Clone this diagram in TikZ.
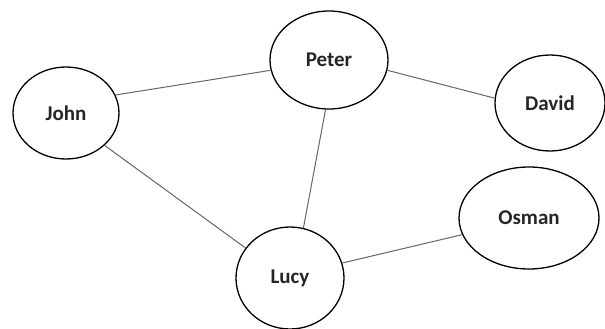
\documentclass[tikz,border=0pt]{standalone}
\usepackage{fontspec}
\setmainfont{Carlito}
\usetikzlibrary{shapes.geometric}
\begin{document}
\begin{tikzpicture}[x=1pt,y=-1pt,
  person/.style={ellipse, draw=black, line width=1.3pt, inner sep=0pt,
    font=\fontsize{21}{25}\selectfont\bfseries, text=black!85},
  link/.style={draw=black!60, line width=1pt}]
  % canvas
  \fill[white] (0,0) rectangle (605,329);
  \useasboundingbox (0,0) rectangle (605,329);

  % people
  \node[person, minimum width=118pt, minimum height=98pt]  (peter) at (329,60)  {Peter};
  \node[person, minimum width=106pt, minimum height=92pt]  (john)  at (66,113)  {John};
  \node[person, minimum width=110pt, minimum height=96pt]  (david) at (550,103) {David};
  \node[person, minimum width=140pt, minimum height=102pt] (osman) at (529,218) {Osman};
  \node[person, minimum width=108pt, minimum height=102pt] (lucy)  at (290,278) {Lucy};

  % relations
  \draw[link] (john.20)   -- (peter.190);
  \draw[link] (john.320)  -- (lucy.146);
  \draw[link] (peter.350) -- (david.175);
  \draw[link] (peter.266) -- (lucy.75);
  \draw[link] (lucy.16)   -- (osman.194);
\end{tikzpicture}
\end{document}
